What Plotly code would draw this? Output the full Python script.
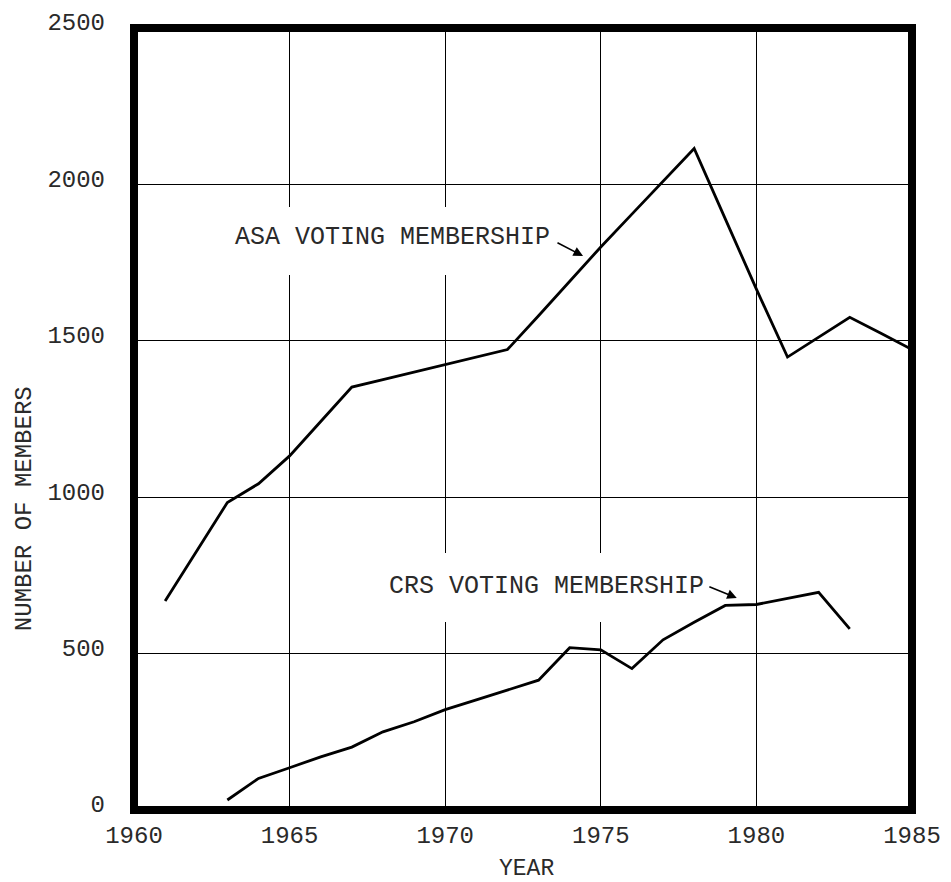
import plotly.graph_objects as go

# ---- data ----
asa_years = list(range(1961, 1986))
asa_members = [668, 825, 983, 1043, 1132, 1242, 1352, 1376, 1400, 1424, 1448, 1472,
               1580, 1690, 1800, 1905, 2010, 2115, 1890, 1665, 1448, 1512, 1575, 1524, 1472]

crs_years = list(range(1963, 1984))
crs_members = [32, 101, 135, 170, 201, 250, 282, 321, 352, 383, 415, 519,
               512, 452, 544, 600, 654, 657, 677, 696, 579]

x_ticks = [1960, 1965, 1970, 1975, 1980, 1985]
x_tick_labels = ["1960", "1965", "1970", "1975", "1980", "1985"]
y_ticks = [0, 500, 1000, 1500, 2000, 2500]
y_tick_labels = ["0", "500", "1000", "1500", "2000", "2500"]

asa_label = "ASA VOTING MEMBERSHIP"
crs_label = "CRS VOTING MEMBERSHIP"

FONT = "Liberation Mono, Courier New, monospace"
TXT = "#2a2a2a"

fig = go.Figure()
fig.add_trace(go.Scatter(x=asa_years, y=asa_members, mode="lines",
                         line=dict(color="black", width=2.8), showlegend=False,
                         name="ASA"))
fig.add_trace(go.Scatter(x=crs_years, y=crs_members, mode="lines",
                         line=dict(color="black", width=2.8), showlegend=False,
                         name="CRS"))

axis_common = dict(showgrid=True, gridcolor="black", gridwidth=1.4,
                   zeroline=False, showline=False, ticks="", automargin=False,
                   tickfont=dict(family=FONT, size=24, color=TXT))

fig.update_layout(
    width=951, height=882,
    margin=dict(l=134, r=39, t=28, b=72, autoexpand=False),
    plot_bgcolor="white", paper_bgcolor="white",
    xaxis=dict(range=[1960, 1985], tickmode="array", tickvals=x_ticks,
               ticktext=x_tick_labels, ticklabelstandoff=8, **axis_common),
    yaxis=dict(range=[0, 2500], tickmode="array", tickvals=y_ticks,
               ticktext=y_tick_labels, ticklabelstandoff=28, ticklabelshift=-6,
               **axis_common),
    shapes=[
        # white patches behind the series labels (interrupt grid lines)
        dict(type="rect", xref="x", yref="y", x0=1962.9, x1=1973.7, y0=1710, y1=1928,
             fillcolor="white", line=dict(width=0), layer="between"),
        dict(type="rect", xref="x", yref="y", x0=1967.9, x1=1978.55, y0=601, y1=822,
             fillcolor="white", line=dict(width=0), layer="between"),
        # thick frame
        dict(type="rect", xref="paper", yref="paper", x0=0, x1=1, y0=0, y1=1,
             line=dict(color="black", width=8), layer="above"),
    ],
    annotations=[
        dict(x=1968.3, y=1830, xref="x", yref="y", text=asa_label, showarrow=False,
             font=dict(family=FONT, size=25, color=TXT), xanchor="center", yanchor="middle"),
        dict(x=1973.27, y=713, xref="x", yref="y", text=crs_label, showarrow=False,
             font=dict(family=FONT, size=25, color=TXT), xanchor="center", yanchor="middle"),
        dict(x=1974.43, y=1771, ax=1973.56, ay=1816, xref="x", yref="y",
             axref="x", ayref="y", text="", showarrow=True, arrowhead=2,
             arrowsize=1.2, arrowwidth=1.6, arrowcolor="black"),
        dict(x=1979.37, y=678, ax=1978.44, ay=716, xref="x", yref="y",
             axref="x", ayref="y", text="", showarrow=True, arrowhead=2,
             arrowsize=1.2, arrowwidth=1.6, arrowcolor="black"),
        dict(x=0.505, y=-0.075, xref="paper", yref="paper", text="YEAR",
             showarrow=False, font=dict(family=FONT, size=23, color=TXT),
             xanchor="center", yanchor="middle"),
        dict(x=-0.1414, y=0.386, xref="paper", yref="paper", text="NUMBER OF MEMBERS",
             showarrow=False, textangle=-90, font=dict(family=FONT, size=24, color=TXT),
             xanchor="center", yanchor="middle"),
    ],
)

fig.write_html("out.html", config={"displayModeBar": False},
               post_script="document.body.style.margin='0';document.body.style.overflow='hidden';")
